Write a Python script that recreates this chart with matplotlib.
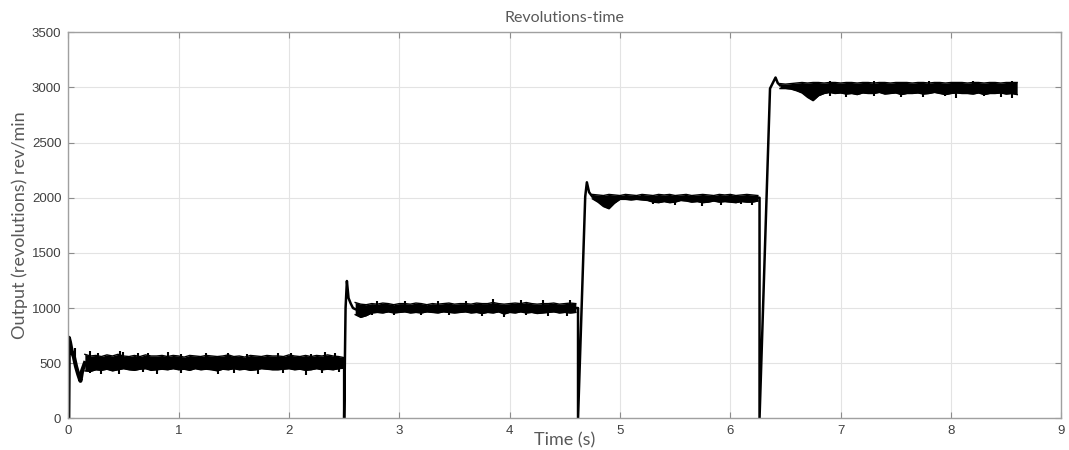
import matplotlib
matplotlib.use("Agg")
import matplotlib.pyplot as plt

# start-up and step transitions (time s, rev/min)
t_tr1 = [0.0, 0.005, 0.015, 0.03, 0.05, 0.07, 0.09, 0.11, 0.125, 0.15]
y_tr1 = [0, 730, 690, 610, 560, 470, 400, 340, 430, 500]
t_tr2 = [2.48, 2.50, 2.50, 2.513, 2.525, 2.54, 2.56, 2.58, 2.60]
y_tr2 = [500, 500, 0, 1000, 1245, 1090, 1040, 1000, 990]
t_tr3 = [4.60, 4.62, 4.62, 4.685, 4.70, 4.72, 4.75]
y_tr3 = [1000, 1000, 0, 2010, 2140, 2050, 2010]
t_tr4 = [6.25, 6.265, 6.265, 6.36, 6.38, 6.41, 6.43, 6.45]
y_tr4 = [2000, 2000, 0, 2990, 3030, 3090, 3040, 3020]

# noise band (upper / lower edge) of each steady level
levels = [500, 1000, 2000, 3000]

t1 = [0.15, 0.20, 0.25, 0.30, 0.35, 0.40, 0.45, 0.50, 0.55, 0.60, 0.65, 0.70,
      0.75, 0.80, 0.85, 0.90, 0.95, 1.00, 1.05, 1.10, 1.15, 1.20, 1.25, 1.30,
      1.35, 1.40, 1.45, 1.50, 1.55, 1.60, 1.65, 1.70, 1.75, 1.80, 1.85, 1.90,
      1.95, 2.00, 2.05, 2.10, 2.15, 2.20, 2.25, 2.30, 2.35, 2.40, 2.45, 2.50]
up1 = [580, 565, 570, 560, 575, 565, 580, 565, 560, 570, 560, 575, 565, 565, 570, 560,
       570, 565, 555, 570, 565, 560, 570, 565, 560, 565, 575, 560, 565, 555, 570, 565,
       560, 570, 565, 565, 560, 575, 565, 560, 570, 560, 570, 565, 575, 565, 560, 550]
lo1 = [430, 425, 440, 435, 445, 430, 440, 450, 440, 435, 445, 450, 435, 440, 445, 440,
       450, 440, 445, 435, 450, 440, 445, 440, 430, 445, 440, 450, 440, 445, 435, 440,
       450, 445, 440, 440, 445, 450, 440, 445, 435, 440, 450, 440, 445, 440, 450, 455]

t2 = [2.60, 2.65, 2.70, 2.75, 2.80, 2.85, 2.90, 2.95, 3.00, 3.05, 3.10, 3.15, 3.20,
      3.25, 3.30, 3.35, 3.40, 3.45, 3.50, 3.55, 3.60, 3.65, 3.70, 3.75, 3.80, 3.85,
      3.90, 3.95, 4.00, 4.05, 4.10, 4.15, 4.20, 4.25, 4.30, 4.35, 4.40, 4.45, 4.50,
      4.55, 4.60]
up2 = [1050, 1035, 1030, 1040, 1035, 1045, 1040, 1030, 1040, 1040, 1035, 1045, 1040, 1030,
       1040, 1035, 1040, 1045, 1035, 1040, 1040, 1035, 1045, 1040, 1040, 1050, 1040, 1035,
       1040, 1045, 1040, 1050, 1040, 1035, 1040, 1040, 1045, 1035, 1040, 1045, 1040]
lo2 = [940, 915, 930, 955, 960, 955, 965, 955, 960, 965, 955, 960, 955, 965,
       960, 955, 965, 960, 955, 960, 965, 955, 960, 950, 960, 955, 965, 945,
       960, 955, 965, 955, 960, 950, 955, 960, 965, 955, 960, 955, 960]

t3 = [4.75, 4.80, 4.85, 4.90, 4.95, 5.00, 5.05, 5.10, 5.15, 5.20, 5.25, 5.30, 5.35,
      5.40, 5.45, 5.50, 5.55, 5.60, 5.65, 5.70, 5.75, 5.80, 5.85, 5.90, 5.95, 6.00,
      6.05, 6.10, 6.15, 6.20, 6.25]
up3 = [2030, 2025, 2020, 2030, 2025, 2020, 2030, 2025, 2020, 2030, 2025, 2020, 2030,
       2025, 2030, 2020, 2025, 2030, 2020, 2025, 2030, 2025, 2020, 2030, 2025, 2030,
       2020, 2025, 2030, 2025, 2020]
lo3 = [1990, 1960, 1920, 1900, 1950, 1985, 1985, 1980, 1985, 1980, 1975, 1960, 1955,
       1965, 1955, 1960, 1975, 1970, 1960, 1965, 1955, 1960, 1970, 1960, 1965, 1960,
       1955, 1965, 1960, 1960, 1970]

t4 = [6.45, 6.50, 6.55, 6.60, 6.65, 6.70, 6.75, 6.80, 6.85, 6.90, 6.95, 7.00, 7.05,
      7.10, 7.15, 7.20, 7.25, 7.30, 7.35, 7.40, 7.45, 7.50, 7.55, 7.60, 7.65, 7.70,
      7.75, 7.80, 7.85, 7.90, 7.95, 8.00, 8.05, 8.10, 8.15, 8.20, 8.25, 8.30, 8.35,
      8.40, 8.45, 8.50, 8.55, 8.60]
up4 = [3035, 3030, 3035, 3040, 3045, 3040, 3045, 3045, 3040, 3045, 3045, 3040, 3045, 3045,
       3040, 3045, 3045, 3040, 3045, 3045, 3040, 3045, 3045, 3045, 3040, 3045, 3045, 3040,
       3045, 3045, 3040, 3045, 3045, 3045, 3040, 3045, 3045, 3040, 3045, 3045, 3040, 3045,
       3045, 3045]
lo4 = [2990, 2990, 2985, 2970, 2950, 2910, 2880, 2925, 2945, 2955, 2945, 2950, 2940, 2945,
       2935, 2950, 2945, 2945, 2955, 2940, 2945, 2950, 2935, 2945, 2945, 2950, 2940, 2945,
       2955, 2945, 2935, 2945, 2950, 2945, 2945, 2940, 2950, 2935, 2945, 2945, 2950, 2940,
       2945, 2935]

# isolated noise spikes above / below each band
sp_up_t = [[0.06, 0.20, 0.27, 0.47, 0.50, 0.63, 0.72, 0.90, 1.02, 1.25, 1.45, 1.62, 1.90, 2.02, 2.20, 2.33, 2.42],
           [2.80, 3.05, 3.35, 3.60, 3.85, 4.10, 4.30, 4.55],
           [5.20, 5.60, 6.00],
           [6.90, 7.30, 7.80, 8.20, 8.55]]
sp_up_y = [[640, 610, 590, 610, 600, 590, 595, 600, 585, 590, 595, 585, 590, 595, 585, 600, 590],
           [1060, 1065, 1060, 1065, 1080, 1075, 1070, 1070],
           [2035, 2035, 2035],
           [3060, 3060, 3055, 3060, 3060]]
sp_lo_t = [[0.20, 0.30, 0.46, 0.68, 0.80, 1.02, 1.36, 1.50, 1.72, 1.95, 2.15, 2.30, 2.45],
           [2.75, 2.95, 3.20, 3.45, 3.75, 3.95, 4.15, 4.35, 4.52],
           [5.30, 5.50, 5.74, 5.92, 6.10, 6.20],
           [6.90, 7.05, 7.30, 7.55, 7.75, 7.95, 8.05, 8.30, 8.45, 8.55]]
sp_lo_y = [[410, 400, 405, 420, 400, 410, 400, 415, 405, 410, 395, 415, 420],
           [940, 935, 940, 935, 930, 920, 935, 930, 925],
           [1940, 1935, 1925, 1930, 1940, 1935],
           [2920, 2910, 2920, 2915, 2910, 2920, 2905, 2920, 2915, 2900]]

xticks = [0, 1, 2, 3, 4, 5, 6, 7, 8, 9]
yticks = [0, 500, 1000, 1500, 2000, 2500, 3000, 3500]

fig = plt.figure(figsize=(10.69, 4.5), dpi=100)
ax = fig.add_axes([68.3 / 1069, 31.7 / 450, 993 / 1069, 386 / 450])

for t, up, lo in [(t1, up1, lo1), (t2, up2, lo2), (t3, up3, lo3), (t4, up4, lo4)]:
    ax.fill_between(t, lo, up, color='k', lw=0)
    ax.plot(t, up, color='k', lw=1)
    ax.plot(t, lo, color='k', lw=1)

for i in range(4):
    ax.vlines(sp_up_t[i], levels[i], sp_up_y[i], color='k', lw=1.5)
    ax.vlines(sp_lo_t[i], sp_lo_y[i], levels[i], color='k', lw=1.5)

ax.plot(t_tr1, y_tr1, color='k', lw=3)
for t, y in [(t_tr2, y_tr2), (t_tr3, y_tr3), (t_tr4, y_tr4)]:
    ax.plot(t, y, color='k', lw=1.8)

ax.set_xlim(0, 9)
ax.set_ylim(0, 3500)
ax.set_xticks(xticks)
ax.set_yticks(yticks)
ax.grid(True, color='#e3e3e3', lw=0.8)
ax.set_axisbelow(True)
ax.tick_params(direction='in', length=4, top=True, right=True, color='#8c8c8c',
               labelsize=9.5, labelcolor='#404040', pad=5)
for lab in ax.get_xticklabels() + ax.get_yticklabels():
    lab.set_family('Liberation Sans')
for s in ax.spines.values():
    s.set_color('#a0a0a0')
    s.set_linewidth(1)

ax.text(0.5, 1.037, 'Revolutions-time', transform=ax.transAxes, ha='center', va='center',
        fontsize=11.5, color='#595959', family='Lato')
ax.text(0.5, -0.056, 'Time (s)', transform=ax.transAxes, ha='center', va='center',
        fontsize=13, color='#595959', family='Lato')
ax.text(-0.0486, 0.5, 'Output (revolutions) rev/min', transform=ax.transAxes, ha='center',
        va='center', rotation=90, fontsize=13, color='#595959', family='Lato')

fig.savefig('out.png', dpi=100)
